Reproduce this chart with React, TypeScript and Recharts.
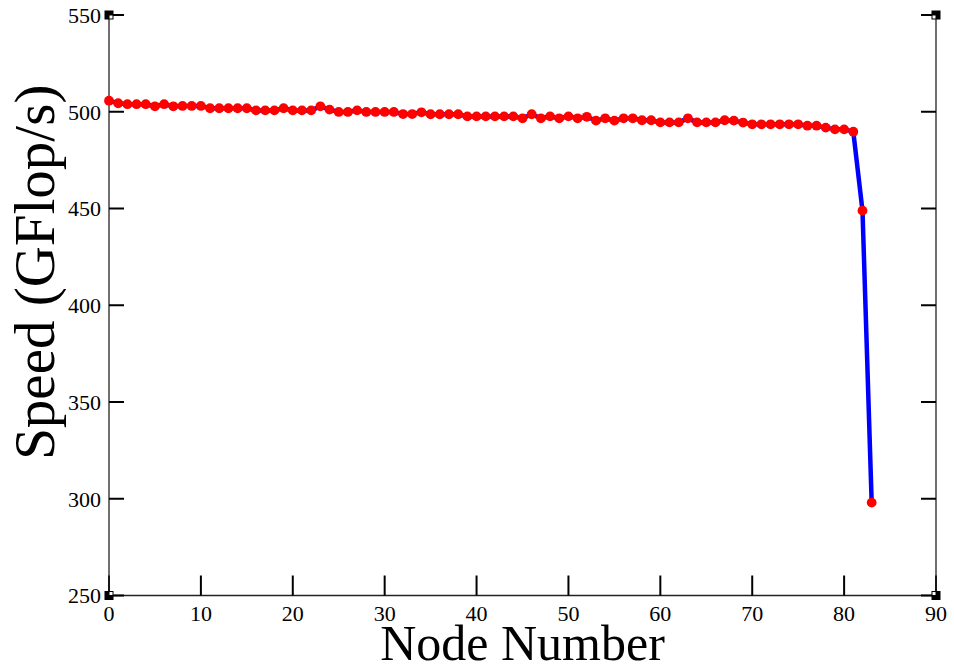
import { LineChart, Line, XAxis, YAxis, ReferenceDot } from "recharts";

const nodeNumbers = [
  0, 1, 2, 3, 4, 5, 6, 7, 8, 9, 10, 11, 12, 13, 14, 15, 16, 17, 18, 19, 20,
  21, 22, 23, 24, 25, 26, 27, 28, 29, 30, 31, 32, 33, 34, 35, 36, 37, 38, 39,
  40, 41, 42, 43, 44, 45, 46, 47, 48, 49, 50, 51, 52, 53, 54, 55, 56, 57, 58,
  59, 60, 61, 62, 63, 64, 65, 66, 67, 68, 69, 70, 71, 72, 73, 74, 75, 76, 77,
  78, 79, 80, 81, 82, 83,
];

const speeds = [
  505.7, 504.4, 503.9, 503.9, 503.9, 502.8, 503.9, 502.8, 503.0, 503.0, 503.0,
  501.8, 501.8, 501.8, 501.8, 501.8, 500.7, 500.7, 500.7, 501.8, 500.7, 500.7,
  500.7, 502.8, 501.1, 499.9, 499.9, 500.7, 499.9, 499.9, 499.9, 499.9, 498.8,
  498.8, 499.7, 498.7, 498.7, 498.7, 498.7, 497.6, 497.6, 497.6, 497.6, 497.6,
  497.6, 496.6, 498.7, 496.6, 497.6, 496.6, 497.6, 496.6, 497.4, 495.4, 496.6,
  495.4, 496.6, 496.6, 495.6, 495.6, 494.5, 494.5, 494.5, 496.6, 494.5, 494.5,
  494.5, 495.6, 495.4, 494.4, 493.5, 493.5, 493.5, 493.5, 493.5, 493.5, 492.8,
  492.8, 491.8, 490.9, 490.9, 489.7, 448.9, 298.0,
];

const xTicks = [0, 10, 20, 30, 40, 50, 60, 70, 80, 90];
const yTicks = [250, 300, 350, 400, 450, 500, 550];

const data = nodeNumbers.map((node, i) => ({ node, speed: speeds[i] }));

const serif = "Liberation Serif";
const tickStyle = { fill: "#000", fontSize: 22, fontFamily: serif };
const tickLineStyle = { stroke: "#000", strokeWidth: 2 };
const frameStyle = { stroke: "#222", strokeWidth: 1.3 };
const blank = () => "";

// little black squares xmgrace leaves at the frame corners
const corners = [
  { x: 0, y: 250, dx: 1, dy: -1 },
  { x: 90, y: 250, dx: -1, dy: -1 },
  { x: 0, y: 550, dx: 1, dy: 1 },
  { x: 90, y: 550, dx: -1, dy: 1 },
];

function cornerShape(dx: number, dy: number) {
  return (props: any) => {
    const { cx, cy } = props;
    return (
      <g>
        <rect x={cx - 4.5} y={cy - 4.5} width={9} height={9} fill="#000" />
        <rect
          x={cx + (dx > 0 ? 0.5 : -3.5)}
          y={cy + (dy > 0 ? 0.5 : -3.5)}
          width={3}
          height={3}
          fill="#fff"
        />
      </g>
    );
  };
}

function XTitle(props: any) {
  const { x, y, width, height } = props.viewBox;
  return (
    <text
      x={x + width / 2}
      y={y + height - 11}
      textAnchor="middle"
      fontFamily={serif}
      fontSize={50}
      fill="#000"
    >
      Node Number
    </text>
  );
}

function YTitle(props: any) {
  const { x, y, height } = props.viewBox;
  const cx = x + 54;
  const cy = y + height / 2 - 33;
  return (
    <text
      x={cx}
      y={cy}
      transform={`rotate(-90 ${cx} ${cy})`}
      textAnchor="middle"
      fontFamily={serif}
      fontSize={57}
      fill="#000"
    >
      Speed (GFlop/s)
    </text>
  );
}

export default function App() {
  return (
    <div style={{ position: "absolute", left: 0, top: 0, background: "#fff" }}>
      <LineChart
        width={954}
        height={671}
        data={data}
        margin={{ top: 15, right: 0, bottom: 0, left: 0 }}
      >
        <XAxis
          dataKey="node"
          type="number"
          domain={[0, 90]}
          ticks={xTicks}
          interval={0}
          height={75.5}
          tick={tickStyle}
          tickSize={-20}
          tickMargin={29.5}
          tickLine={tickLineStyle}
          axisLine={frameStyle}
          label={{ content: XTitle }}
        />
        <XAxis
          xAxisId="top"
          orientation="top"
          dataKey="node"
          type="number"
          domain={[0, 90]}
          ticks={xTicks}
          interval={0}
          height={0}
          tick={tickStyle}
          tickFormatter={blank}
          tickSize={-20}
          tickLine={tickLineStyle}
          axisLine={frameStyle}
        />
        <YAxis
          type="number"
          domain={[250, 550]}
          ticks={yTicks}
          interval={0}
          width={109}
          tick={tickStyle}
          tickSize={-15}
          tickMargin={23}
          tickLine={tickLineStyle}
          axisLine={frameStyle}
          label={{ content: YTitle }}
        />
        <YAxis
          yAxisId="right"
          orientation="right"
          type="number"
          domain={[250, 550]}
          ticks={yTicks}
          interval={0}
          width={18}
          tick={tickStyle}
          tickFormatter={blank}
          tickSize={-15}
          tickLine={tickLineStyle}
          axisLine={frameStyle}
        />
        {/* invisible copy so the mirrored frame axes get their ticks */}
        <Line
          xAxisId="top"
          yAxisId="right"
          dataKey="speed"
          stroke="none"
          dot={false}
          activeDot={false}
          legendType="none"
          isAnimationActive={false}
        />
        <Line
          type="linear"
          dataKey="speed"
          stroke="#0000ff"
          strokeWidth={4.5}
          dot={{ r: 4.9, fill: "#ff0000", stroke: "none", fillOpacity: 1 }}
          activeDot={false}
          isAnimationActive={false}
        />
        {corners.map((c) => (
          <ReferenceDot
            key={`${c.x}-${c.y}`}
            x={c.x}
            y={c.y}
            r={4}
            ifOverflow="visible"
            shape={cornerShape(c.dx, c.dy)}
          />
        ))}
      </LineChart>
    </div>
  );
}
